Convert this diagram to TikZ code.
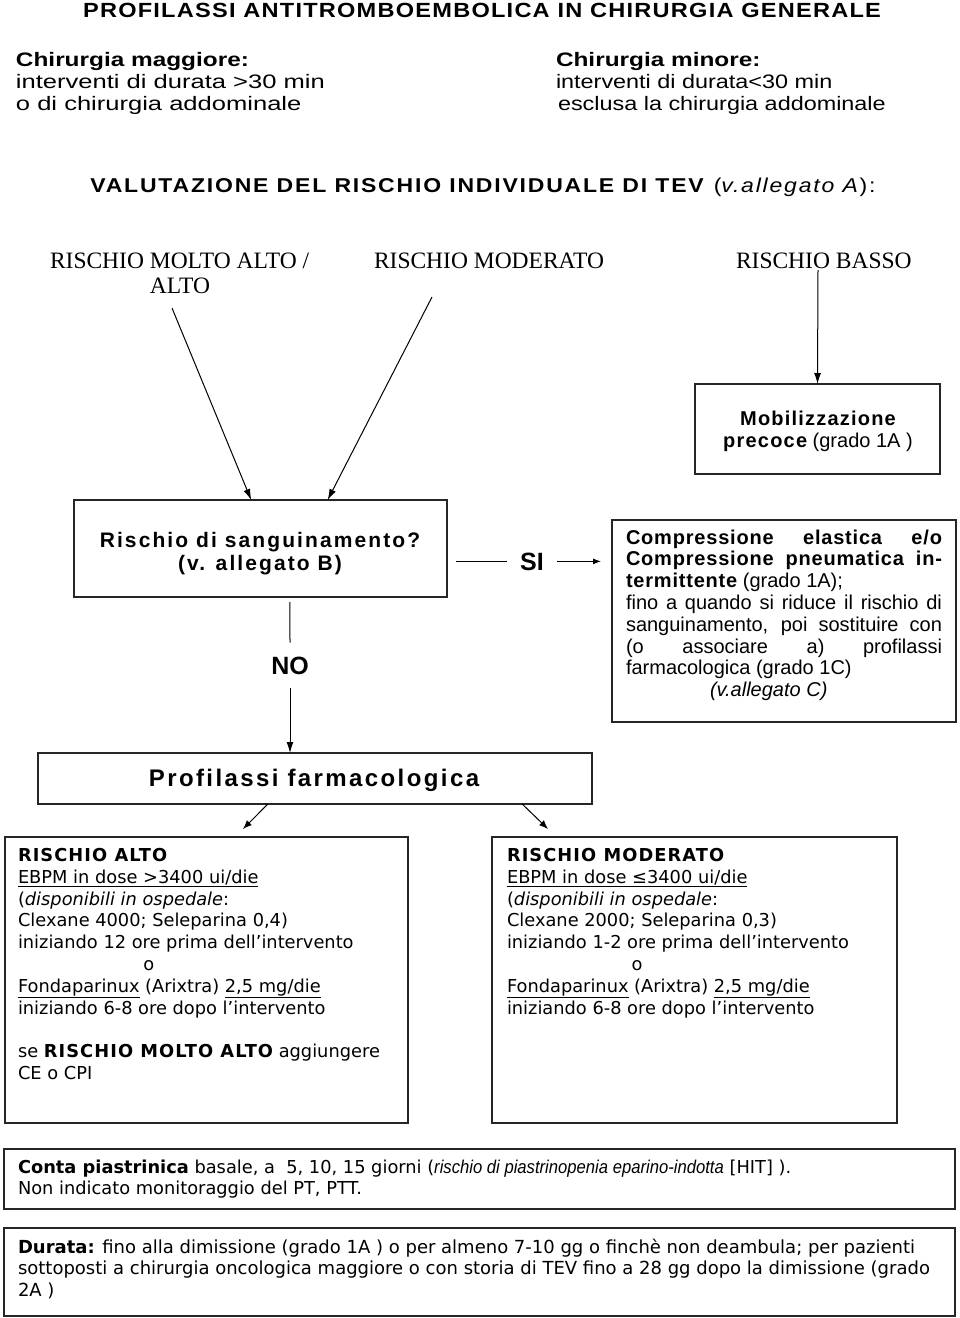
\documentclass[tikz,border=0pt]{standalone}
\usepackage{fontspec}
\setmainfont{Liberation Sans}
\usetikzlibrary{arrows.meta,calc}
\newfontfamily\ar{Liberation Sans}
\newfontfamily\arS[LetterSpace=10]{Liberation Sans}
\newfontfamily\arM[LetterSpace=6]{Liberation Sans}
\newfontfamily\arK[LetterSpace=4]{Liberation Sans}
\newfontfamily\arT[FakeStretch=1.15,LetterSpace=6]{Liberation Sans}
\newfontfamily\arV[FakeStretch=1.15,LetterSpace=9]{Liberation Sans}
\newfontfamily\arW[FakeStretch=1.25]{Liberation Sans}
\newfontfamily\arWL[FakeStretch=1.31]{Liberation Sans}
\newfontfamily\arWR[FakeStretch=1.2]{Liberation Sans}
\newfontfamily\arN[FakeStretch=0.9]{Liberation Sans}
\newfontfamily\vd{DejaVu Sans}
\newfontfamily\vdS[LetterSpace=6]{DejaVu Sans}
\newfontfamily\tn{Liberation Serif}
\newcommand\fs[2]{\fontsize{#1}{#2}\selectfont}
\newcommand\tst{\rule{0pt}{20pt}}
\begin{document}
\begin{tikzpicture}[x=1pt,y=-1pt,
  every node/.style={inner sep=0pt, outer sep=0pt},
  box/.style={draw=black!85, line width=1.5pt},
  tl/.style={anchor=north west, align=left},
  ln/.style={line width=1pt},
  arr/.style={line width=1pt, -{Latex[length=11pt,width=7pt]}},
  arrs/.style={line width=1pt, -{Latex[length=9pt,width=7pt]}},
  arrsi/.style={line width=1pt, -{Latex[length=8pt,width=6pt]}},
  body/.style={font=\vd\fs{17.8}{21.8}},
]
\useasboundingbox[fill=white] (0,0) rectangle (960,1318);

% title
\node[anchor=base, font=\arT\bfseries\fs{20.5}{22}] (title) at (482,17.5) {PROFILASSI ANTITROMBOEMBOLICA IN CHIRURGIA GENERALE};

% header
\node[tl, font=\arWL\fs{19.5}{22}] (hL) at (16,46.5) {\tst{\arW\bfseries Chirurgia maggiore:}\\interventi di durata >30 min\\o di chirurgia addominale};
\node[tl, font=\arWR\fs{19.5}{22}] (hR) at (556,46.5) {\tst{\arW\bfseries Chirurgia minore:}\\interventi di durata<30 min\\\hspace*{2pt}esclusa la chirurgia addominale};

% valutazione
\node[anchor=base, font=\arV\fs{20}{24}] (val) at (483,192) {\textbf{VALUTAZIONE DEL RISCHIO INDIVIDUALE DI TEV} (\textit{v.allegato A}):};

% risk labels
\node[anchor=base west, font=\tn\fs{23.5}{25}] (rA) at (50,268) {RISCHIO MOLTO ALTO /};
\node[anchor=base, font=\tn\fs{23.5}{25}] (rA2) at (180,293) {ALTO};
\node[anchor=base west, font=\tn\fs{23.5}{25}] (rM) at (374,268) {RISCHIO MODERATO};
\node[anchor=base west, font=\tn\fs{23.5}{25}] (rB) at (736,268) {RISCHIO BASSO};

% boxes
\node[box, minimum width=245, minimum height=90] (mob) at (817.5,429) {};
\node[anchor=north, align=center, font=\ar\fs{20}{22}] (mobt) at (818,405) {\tst{\arM\bfseries Mobilizzazione}\\{\arM\bfseries precoce} (grado 1A )};

\node[box, minimum width=373, minimum height=97] (rs) at (260.5,548.5) {};
\node[anchor=north, align=center, font=\arS\bfseries\fs{21}{23}] (rst) at (260,527) {\tst Rischio di sanguinamento?\\(v. allegato B)};

\node[box, minimum width=344, minimum height=202] (cp) at (784,621) {};
\node[tl, font=\ar\fs{20}{21.8}] (cpt) at (626,524) {\tst\hbox to 316pt{\arK\bfseries Compressione\hfill elastica\hfill e/o}\\
\hbox to 316pt{\arK\bfseries Compressione\hfill pneumatica\hfill in-}\\
{\arK\bfseries termittente} (grado 1A);\\
\hbox to 316pt{fino a quando si riduce il rischio di}\\
\hbox to 316pt{sanguinamento, poi sostituire con}\\
\hbox to 316pt{(o\hfill associare\hfill a)\hfill profilassi}\\
farmacologica (grado 1C)\\
\hspace*{84pt}\textit{(v.allegato C)}};

\node[anchor=base, font=\ar\bfseries\fs{25}{28}] (si) at (532,570) {SI};
\node[anchor=base, font=\ar\bfseries\fs{25}{28}] (no) at (290,674) {NO};

\node[box, minimum width=554, minimum height=51] (pf) at (315,778.5) {};
\node[anchor=base, font=\arS\bfseries\fs{24}{28}] (pft) at (314,786) {Profilassi farmacologica};

\node[box, minimum width=403, minimum height=286] (bA) at (206.5,980) {};
\node[tl, body] (bAt) at (18,841.5) {\tst{\vdS\bfseries RISCHIO ALTO}\\
\underline{EBPM in dose >3400 ui/die}\\
(\textit{disponibili in ospedale}:\\
Clexane 4000; Seleparina 0,4)\\
iniziando 12 ore prima dell’intervento\\
\hspace*{125.5pt}o\\
\underline{Fondaparinux} (Arixtra) \underline{2,5 mg/die}\\
iniziando 6-8 ore dopo l’intervento\\[21.8pt]
se {\vdS\bfseries RISCHIO MOLTO ALTO} aggiungere\\
CE o CPI};

\node[box, minimum width=405, minimum height=286] (bM) at (694.5,980) {};
\node[tl, body] (bMt) at (507,841.5) {\tst{\vdS\bfseries RISCHIO MODERATO}\\
\underline{EBPM in dose ≤3400 ui/die}\\
(\textit{disponibili in ospedale}:\\
Clexane 2000; Seleparina 0,3)\\
iniziando 1-2 ore prima dell’intervento\\
\hspace*{124.5pt}o\\
\underline{Fondaparinux} (Arixtra) \underline{2,5 mg/die}\\
iniziando 6-8 ore dopo l’intervento};

\node[box, minimum width=951, minimum height=60] (ct) at (479.5,1179) {};
\node[tl, body] (ctt) at (18,1153) {\tst{\bfseries Conta piastrinica} basale, a\ \ 5, 10, 15 giorni ({\arN\itshape\fs{18.5}{21.8}rischio di piastrinopenia eparino-indotta} [HIT] ).\\
Non indicato monitoraggio del PT, PTT.};

\node[box, minimum width=951, minimum height=88] (du) at (479.5,1272) {};
\node[tl, font=\vd\fs{18}{21.8}] (dut) at (18,1233) {\tst{\bfseries Durata:} fino alla dimissione (grado 1A ) o per almeno 7-10 gg o finchè non deambula; per pazienti\\
sottoposti a chirurgia oncologica maggiore o con storia di TEV fino a 28 gg dopo la dimissione (grado\\
2A )};

% connectors
\coordinate (s1) at (172,308);
\coordinate (s2) at (432,297);
\coordinate (s3) at (818,270);
\draw[arr] (s1) -- ($(rs.north west)!0.475!(rs.north east)$);
\draw[arr] (s2) -- ($(rs.north west)!0.68!(rs.north east)$);
\draw[arr] (s3) -- (mob.north);

\coordinate (n1) at ($(rs.south west)!0.579!(rs.south east)+(0,5)$);
\draw[ln] (n1) -- ([yshift=14pt]no.north);
\draw[arr] ([yshift=-14pt]no.south) -- (no.south |- pf.north);

\draw[ln] ([xshift=9pt]rs.east |- si.center) -- ([xshift=-13pt]si.west |- si.center);
\draw[arrsi] ([xshift=13pt]si.east |- si.center) -- ([xshift=-11pt]si.center -| cp.west);

\coordinate (pa) at ($(pf.south west)!0.415!(pf.south east)$);
\coordinate (pb) at ($(pf.south west)!0.874!(pf.south east)$);
\draw[arrs] (pa) -- ($(bA.north)+(36.5,-8)$);
\draw[arrs] (pb) -- ($(bM.north)+(-146.5,-8)$);
\end{tikzpicture}
\end{document}
